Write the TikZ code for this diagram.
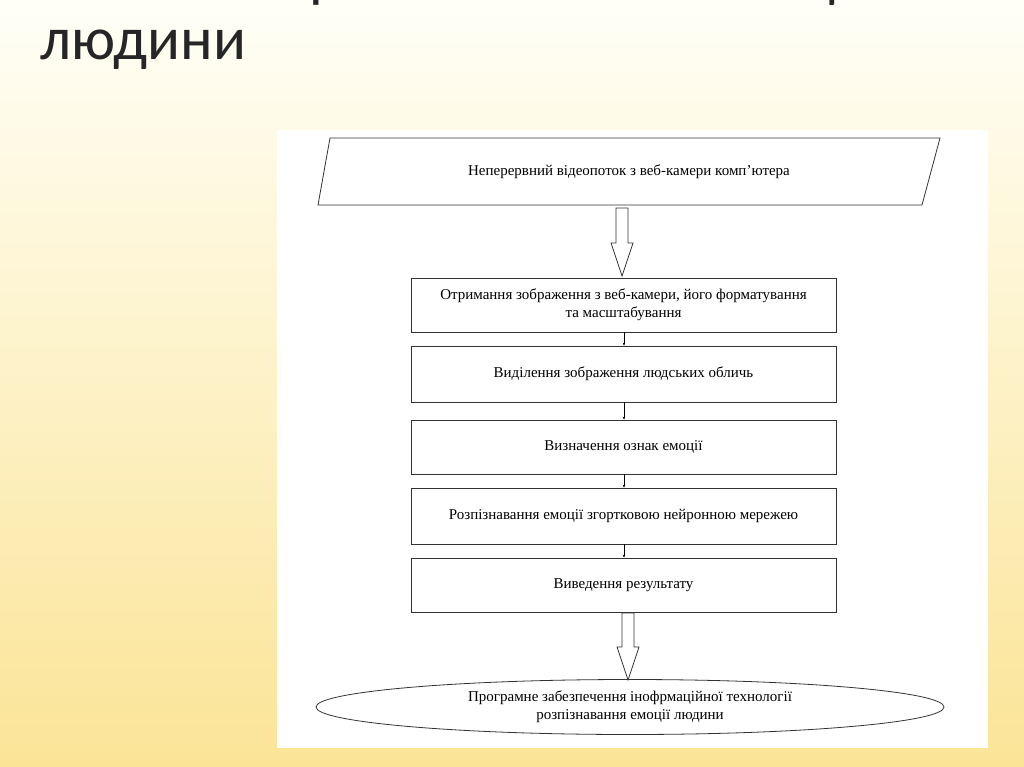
\documentclass[tikz,border=0pt]{standalone}
\usepackage{fontspec}
\setmainfont{Liberation Serif}
\newfontfamily\titlefont{Carlito}
\usetikzlibrary{shapes.geometric,arrows.meta}
\begin{document}
\begin{tikzpicture}[x=1pt,y=-1pt,
  box/.style={draw=black!80,line width=0.8pt,minimum width=425pt,inner sep=0pt,align=center,font=\fontsize{15}{18}\selectfont},
  small/.style={-{Stealth[length=3pt,width=2.5pt]},line width=0.3pt},
  hollow/.style={draw=black!80,fill=white,line width=0.8pt}]
\useasboundingbox (0,0) rectangle (1024,767);
\shade[top color=yellow!3!white,bottom color={rgb,255:red,251;green,228;blue,150}] (0,0) rectangle (1024,767);
\fill[white] (277,130) rectangle (988,748);
\node[font=\titlefont\fontsize{61}{64}\selectfont,anchor=base west,align=left,inner sep=0pt,text=black!85] (title) at (40,60)
 {12. Структура інформаційної\\технології розпізнавання емоції\\людини};
\draw[black!80,line width=0.8pt] (330,138) -- (940,138) -- (922,205) -- (318,205) -- cycle;
\node[font=\fontsize{15}{18}\selectfont] (in) at (629,172) {Неперервний відеопоток з веб-камери комп’ютера};
\node[box,minimum height=54pt] (b1) at (623.5,305) {Отримання зображення з веб-камери, його форматування\\та масштабування};
\node[box,minimum height=56pt] (b2) at (623.5,374) {Виділення зображення людських обличь};
\node[box,minimum height=54pt] (b3) at (623.5,447) {Визначення ознак емоції};
\node[box,minimum height=56pt] (b4) at (623.5,516) {Розпізнавання емоції згортковою нейронною мережею};
\node[box,minimum height=54pt] (b5) at (623.5,585) {Виведення результату};
\node[ellipse,draw=black!80,line width=0.8pt,minimum width=628pt,minimum height=55pt,align=center,inner sep=0pt,font=\fontsize{15}{18}\selectfont] (out) at (630,707)
 {Програмне забезпечення інофрмаційної технології\\розпізнавання емоції людини};
\draw[hollow] (616,208) -- (628,208) -- (628,243) -- (633,243) -- (622,276) -- (611,243) -- (616,243) -- cycle;
\draw[hollow] (622,613) -- (634,613) -- (634,647) -- (639,647) -- (628,680) -- (617,647) -- (622,647) -- cycle;
\draw[small] (b1.south -| 624,0) -- (b2.north -| 624,0);
\draw[small] (b2.south -| 624,0) -- (b3.north -| 624,0);
\draw[small] (b3.south -| 624,0) -- (b4.north -| 624,0);
\draw[small] (b4.south -| 624,0) -- (b5.north -| 624,0);
\end{tikzpicture}
\end{document}
